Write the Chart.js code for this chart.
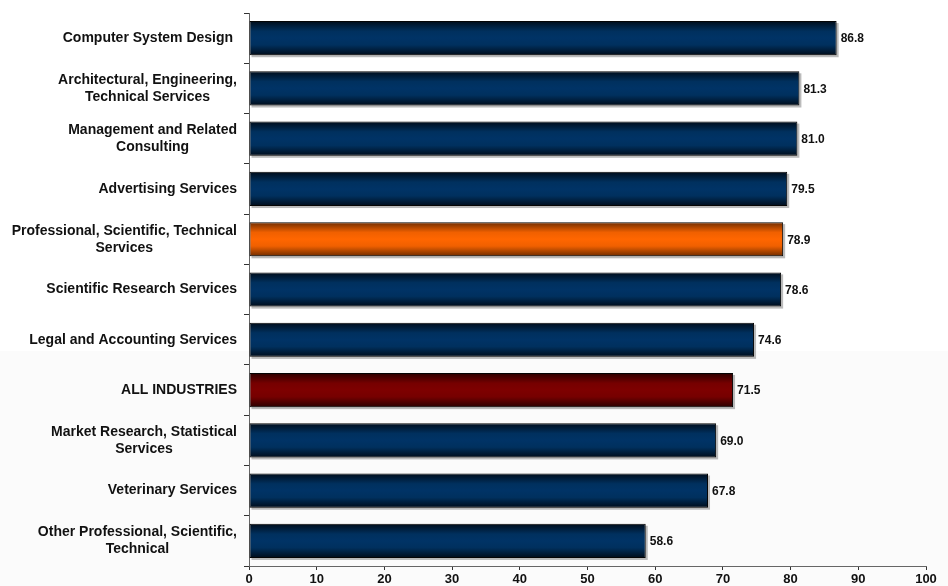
<!DOCTYPE html>
<html>
<head>
<meta charset="utf-8">
<script src="https://cdn.jsdelivr.net/npm/chart.js@4"></script>
<style>
  html, body { margin: 0; padding: 0; background: #ffffff; }
  #wrap { width: 948px; height: 586px; position: relative; }
</style>
</head>
<body>
<div id="wrap"><canvas id="chart" width="948" height="586"></canvas></div>
<script>
/* ---------------- DATA ---------------- */
const categories = [
  ["Computer System Design "],
  ["Architectural, Engineering,", "Technical Services"],
  ["Management and Related", "Consulting"],
  ["Advertising Services"],
  ["Professional, Scientific, Technical", "Services"],
  ["Scientific Research Services"],
  ["Legal and Accounting Services"],
  ["ALL INDUSTRIES"],
  ["Market Research, Statistical", "Services"],
  ["Veterinary Services"],
  ["Other Professional, Scientific,", "Technical"]
];
const values = [86.8, 81.3, 81.0, 79.5, 78.9, 78.6, 74.6, 71.5, 69.0, 67.8, 58.6];
const barKinds = ["navy", "navy", "navy", "navy", "orange", "navy", "navy", "red", "navy", "navy", "navy"];
const xTicks = [0, 10, 20, 30, 40, 50, 60, 70, 80, 90, 100];

/* ---------------- STYLE ---------------- */
const FONT = "'Liberation Sans', Arial, sans-serif";
const BAR_PCT = 0.68;
const palettes = {
  navy: ["#000c1a", "#00305e", "#003366", "#00305e", "#000c1a"],
  orange: ["#6e2c00", "#f06000", "#ff6600", "#f06000", "#6e2c00"],
  red: ["#2a0000", "#760000", "#7e0000", "#760000", "#2a0000"]
};

function barFill(context) {
  const chart = context.chart;
  const y = chart.scales.y;
  const kind = barKinds[context.dataIndex];
  if (!y || !chart.chartArea) return palettes[kind][2];
  const centre = y.getPixelForValue(context.dataIndex);
  const half = (y.height / categories.length) * BAR_PCT / 2;
  const g = chart.ctx.createLinearGradient(0, centre - half, 0, centre + half);
  const stops = palettes[kind];
  g.addColorStop(0, stops[0]);
  g.addColorStop(0.3, stops[1]);
  g.addColorStop(0.5, stops[2]);
  g.addColorStop(0.7, stops[3]);
  g.addColorStop(1, stops[4]);
  return g;
}

/* ---------------- PLUGINS ---------------- */
const pageBackground = {
  id: "pageBackground",
  beforeDraw(chart) {
    const ctx = chart.ctx;
    ctx.save();
    ctx.fillStyle = "#ffffff";
    ctx.fillRect(0, 0, chart.width, chart.height);
    ctx.fillStyle = "#fbfbfb";
    ctx.fillRect(0, 351, chart.width, chart.height - 351);
    ctx.restore();
  }
};

const categoryLabels = {
  id: "categoryLabels",
  afterDraw(chart) {
    const ctx = chart.ctx;
    const y = chart.scales.y;
    const right = 237;
    const lineH = 17;
    ctx.save();
    ctx.font = "bold 14px " + FONT;
    ctx.fillStyle = "#111111";
    ctx.textAlign = "center";
    ctx.textBaseline = "middle";
    categories.forEach((lines, i) => {
      const w = Math.max(...lines.map((l) => ctx.measureText(l).width));
      const cx = right - w / 2;
      const cy = y.getPixelForValue(i);
      lines.forEach((l, k) => {
        ctx.fillText(l, cx, cy + (k - (lines.length - 1) / 2) * lineH);
      });
    });
    ctx.restore();
  }
};

const valueLabels = {
  id: "valueLabels",
  afterDatasetsDraw(chart) {
    const ctx = chart.ctx;
    const meta = chart.getDatasetMeta(0);
    ctx.save();
    ctx.font = "bold 12px " + FONT;
    ctx.fillStyle = "#111111";
    ctx.textAlign = "left";
    ctx.textBaseline = "middle";
    meta.data.forEach((bar, i) => {
      ctx.fillText(values[i].toFixed(1), bar.x + 4, bar.y + 1);
    });
    ctx.restore();
  }
};

const barShadow = {
  id: "barShadow",
  beforeDatasetsDraw(chart) {
    const ctx = chart.ctx;
    const meta = chart.getDatasetMeta(0);
    ctx.save();
    ctx.fillStyle = "rgba(120,120,120,0.5)";
    meta.data.forEach((bar) => {
      const h = bar.height;
      ctx.fillRect(bar.base + 2, bar.y - h / 2 + 2, bar.x - bar.base, h);
    });
    ctx.restore();
  }
};

/* ---------------- CHART ---------------- */
new Chart(document.getElementById("chart"), {
  type: "bar",
  data: {
    labels: categories,
    datasets: [{
      data: values,
      backgroundColor: barFill,
      borderColor: "#050505",
      borderWidth: 1,
      borderSkipped: false,
      categoryPercentage: 1,
      barPercentage: BAR_PCT
    }]
  },
  options: {
    indexAxis: "y",
    responsive: false,
    animation: false,
    events: [],
    layout: { padding: { top: 13, right: 22, left: 0, bottom: 0 } },
    plugins: {
      legend: { display: false },
      tooltip: { enabled: false },
      title: { display: false }
    },
    scales: {
      x: {
        min: 0,
        max: 100,
        afterBuildTicks(scale) {
          scale.ticks = xTicks.map((v) => ({ value: v }));
        },
        afterFit(scale) { scale.height = 20; },
        border: { display: true, color: "#666666", width: 1 },
        grid: {
          drawOnChartArea: false,
          drawTicks: true,
          tickLength: 4,
          color: "#333333"
        },
        ticks: {
          color: "#111111",
          font: { family: FONT, size: 13, weight: "bold" },
          padding: 2,
          maxRotation: 0
        }
      },
      y: {
        afterFit(scale) { scale.width = 249; },
        border: { display: true, color: "#666666", width: 1 },
        grid: {
          offset: true,
          drawOnChartArea: false,
          drawTicks: true,
          tickLength: 5,
          color: "#333333"
        },
        ticks: { display: false }
      }
    }
  },
  plugins: [pageBackground, barShadow, valueLabels, categoryLabels]
});
</script>
</body>
</html>
